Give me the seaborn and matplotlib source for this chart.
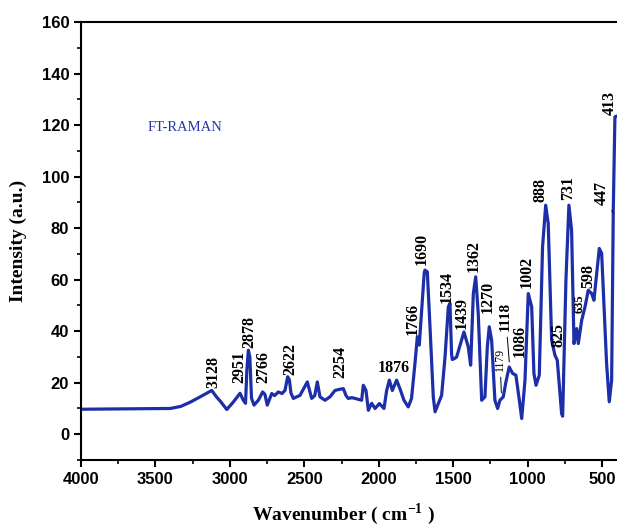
import numpy as np
import pandas as pd
import seaborn as sns
import matplotlib.pyplot as plt

# spectrum (wavenumber, intensity)
wavenumber = [4000, 3800, 3600, 3400, 3330, 3268, 3200, 3122, 3090, 3060,
              3021, 2977, 2950, 2932, 2910, 2895, 2886, 2876, 2866, 2855,
              2838, 2809, 2780, 2765, 2749, 2719, 2700, 2675, 2650, 2630,
              2612, 2600, 2590, 2574, 2529, 2480, 2451, 2430, 2413, 2395,
              2361, 2328, 2294, 2265, 2238, 2220, 2205, 2180, 2160, 2115,
              2104, 2086, 2070, 2048, 2025, 1996, 1965, 1947, 1929, 1909,
              1880, 1858, 1831, 1802, 1780, 1757, 1741, 1728, 1712, 1695,
              1690, 1674, 1656, 1634, 1622, 1600, 1578, 1555, 1533, 1522,
              1511, 1506, 1488, 1477, 1428, 1399, 1383, 1365, 1349, 1332,
              1309, 1287, 1271, 1258, 1242, 1220, 1202, 1186, 1164, 1146,
              1124, 1101, 1079, 1056, 1040, 1018, 996, 973, 958, 944,
              922, 900, 879, 862, 839, 817, 801, 772, 765, 743,
              723, 705, 689, 671, 660, 637, 615, 593, 570, 555,
              519, 503, 470, 452, 436, 425, 414, 400]
intensity = [9.7, 9.8, 9.9, 10.0, 10.8, 12.4, 14.5, 17.0, 14.5, 12.5,
             9.6, 12.5, 14.5, 15.9, 13.2, 12.0, 25.0, 32.6, 30.0, 14.0,
             11.3, 13.2, 16.4, 15.5, 11.3, 15.8, 15.0, 16.4, 15.8, 17.0,
             22.3, 21.0, 16.0, 13.9, 15.1, 20.3, 13.9, 15.0, 20.3, 14.5,
             13.2, 14.5, 17.0, 17.4, 17.7, 15.0, 13.9, 14.2, 13.9, 13.2,
             19.0, 17.0, 9.3, 12.0, 10.0, 11.9, 10.0, 17.0, 21.0, 17.0,
             21.0, 17.7, 13.2, 10.6, 13.9, 27.5, 37.8, 34.6, 48.0, 62.5,
             63.7, 63.0, 41.7, 14.5, 8.7, 11.9, 15.1, 30.0, 49.4, 50.8,
             31.0, 29.0, 29.5, 30.0, 39.7, 33.9, 26.8, 54.6, 61.1, 46.9,
             13.2, 14.5, 33.9, 41.7, 36.5, 13.2, 10.0, 13.2, 14.5, 20.3,
             26.1, 23.6, 22.9, 13.2, 6.1, 21.0, 54.6, 49.4, 23.6, 19.0,
             22.9, 72.7, 88.9, 81.8, 36.5, 30.7, 28.7, 8.0, 7.0, 59.8,
             88.9, 79.2, 35.2, 41.0, 35.2, 44.3, 49.4, 55.9, 54.6, 52.0,
             72.1, 70.2, 27.5, 12.6, 21.0, 87.0, 123.2, 123.5]

# peak labels: text, x, y of text bottom
peak_labels = ["3128", "2951", "2878", "2766", "2622", "2254", "1766", "1690",
               "1534", "1439", "1362", "1270", "1086", "1002", "888", "825",
               "731", "598", "413"]
label_x = [3114, 2939, 2872, 2777, 2596, 2261, 1770, 1710,
           1542, 1441, 1362, 1267, 1052, 1007, 913, 794,
           727, 593, 447]
label_y = [18.0, 19.8, 33.4, 19.8, 23.0, 21.7, 38.4, 65.6,
           50.9, 41.0, 63.0, 47.0, 30.0, 56.7, 90.0, 33.8,
           91.0, 56.7, 124.0]

df = pd.DataFrame({"wavenumber": wavenumber, "intensity": intensity})

sns.set_style("ticks")
plt.rcParams["mathtext.fontset"] = "custom"
plt.rcParams["mathtext.rm"] = "Liberation Serif"
plt.rcParams["mathtext.bf"] = "Liberation Serif:bold"
for k in ["text.color", "axes.labelcolor", "xtick.color", "ytick.color", "axes.edgecolor"]:
    plt.rcParams[k] = "black"

fig = plt.figure(figsize=(6.17, 5.28), dpi=100)
ax = fig.add_axes([0.1313, 0.1288, 0.8687, 0.8295])

sns.lineplot(data=df, x="wavenumber", y="intensity", ax=ax, sort=False,
             estimator=None, color="#1c2ea8", linewidth=2.3)

ax.set_xlim(4000, 400)
ax.set_ylim(-10, 160)
ax.set_xticks([4000, 3500, 3000, 2500, 2000, 1500, 1000, 500])
ax.set_xticks(np.arange(3750, 400, -500), minor=True)
ax.set_yticks(np.arange(0, 161, 20))
ax.set_yticks(np.arange(-10, 161, 20), minor=True)
ax.tick_params(which="major", direction="out", length=5, width=1.5, labelsize=12)
ax.tick_params(which="minor", direction="out", length=3, width=1.2)
for lab in ax.get_xticklabels() + ax.get_yticklabels():
    lab.set_fontfamily("Liberation Sans")
    lab.set_fontweight("bold")
for s in ["left", "bottom", "top"]:
    ax.spines[s].set_linewidth(1.5)
ax.spines["right"].set_visible(False)

ax.set_xlabel("Wavenumber ( cm$^{\\mathbf{-1}}$ )", fontfamily="Liberation Serif",
              fontweight="bold", fontsize=14)
ax.set_ylabel("Intensity (a.u.)", fontfamily="Liberation Serif",
              fontweight="bold", fontsize=14)
ax.xaxis.set_label_coords(0.49, -0.095)
ax.yaxis.set_label_coords(-0.10, 0.5)

ax.text(3300, 119, "FT-RAMAN", color="#2a35a8", fontfamily="Liberation Serif",
        fontsize=10.5, ha="center", va="center")

for t, x, y in zip(peak_labels, label_x, label_y):
    ax.text(x, y, t, rotation=90, ha="center", va="bottom",
            fontfamily="Liberation Serif", fontweight="bold", fontsize=11.5)

ax.text(1898, 25.6, "1876", ha="center", va="center",
        fontfamily="Liberation Serif", fontweight="bold", fontsize=11.5)
ax.text(649, 47, "635", rotation=90, ha="center", va="bottom",
        fontfamily="Liberation Serif", fontweight="bold", fontsize=9)

# small labels with leader lines
ax.annotate("1179", xy=(1176, 15), xytext=(1186, 24.5), rotation=90,
            ha="center", va="bottom", fontfamily="Liberation Serif", fontsize=8.5,
            arrowprops=dict(arrowstyle="-", lw=0.7, color="black"))
ax.annotate("1118", xy=(1122, 27), xytext=(1148, 40), rotation=90,
            ha="center", va="bottom", fontfamily="Liberation Serif",
            fontweight="bold", fontsize=11,
            arrowprops=dict(arrowstyle="-", lw=0.7, color="black"))
ax.annotate("447", xy=(427, 86), xytext=(503, 89), rotation=90,
            ha="center", va="bottom", fontfamily="Liberation Serif",
            fontweight="bold", fontsize=11.5,
            arrowprops=dict(arrowstyle="-", lw=0.7, color="black"))

plt.savefig("out.png", dpi=100)
